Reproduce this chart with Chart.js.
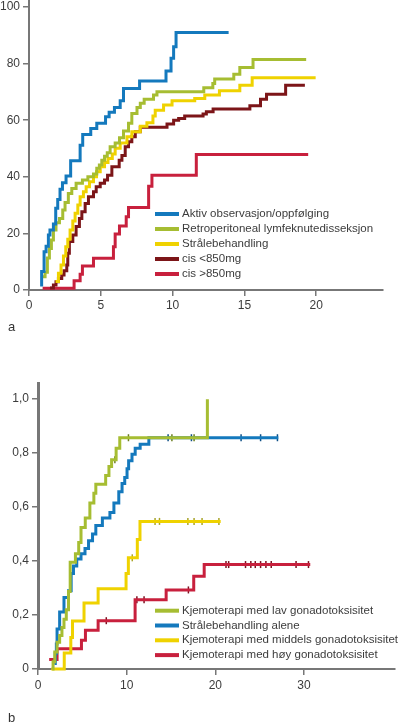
<!DOCTYPE html>
<html>
<head>
<meta charset="utf-8">
<script src="https://cdn.jsdelivr.net/npm/chart.js@4.4.1/dist/chart.umd.min.js"></script>
<style>
  html, body { margin: 0; padding: 0; background: #fff; }
  body { width: 400px; height: 724px; position: relative; overflow: hidden;
         font-family: "Liberation Sans", Arial, sans-serif; }
  #chartA { position: absolute; left: 0; top: 0; }
  #chartB { position: absolute; left: 0; top: 378px; }
  .tag { position: absolute; left: 8px; font-size: 13px; color: #333; }
</style>
</head>
<body>
<canvas id="chartA" width="400" height="320"></canvas>
<canvas id="chartB" width="400" height="321"></canvas>
<div class="tag" style="top:319px">a</div>
<div class="tag" style="top:710px">b</div>
<script>
// ---- panel a: cumulative recovery (%) by treatment, years ----
const labelsA = ['Aktiv observasjon/oppfølging', 'Retroperitoneal lymfeknutedisseksjon',
                 'Strålebehandling', 'cis <850mg', 'cis >850mg'];
const aktiv = [[0.88,1.2],[0.88,6.5],[1.05,13.5],[1.19,15.5],[1.35,19.4],[1.46,21.2],[1.7,23.3],
  [1.86,28.9],[2.0,32],[2.16,35.6],[2.33,37.9],[2.58,40.3],[2.9,45.7],[3.56,51.2],[3.74,55],
  [4.3,57.1],[4.72,58.9],[5.33,61.2],[5.58,62.8],[5.95,64.5],[6.35,66.9],[6.58,71.2],[7.7,73.9],
  [9.54,77.4],[9.89,81.9],[10.07,86],[10.24,91],[13.9,91]];
const retro = [[0.88,4.7],[1.12,6.3],[1.28,11.3],[1.42,14.7],[1.56,17.7],[1.7,21.2],[1.88,23.8],
  [2.12,25.3],[2.35,28.3],[2.51,30.9],[2.74,34.1],[2.98,35.9],[3.28,37.7],[3.72,38.9],[4.1,40],
  [4.49,41],[4.72,43],[4.9,44.2],[5.07,45.9],[5.26,47.3],[5.45,48.5],[5.65,50.6],[6.0,52],
  [6.3,53.8],[6.58,56.2],[6.93,58.9],[7.16,62.4],[7.52,64.5],[7.75,66],[8.02,67.4],[8.67,68.9],
  [8.91,70.1],[12.17,71.5],[12.8,73],[12.93,74.6],[14.26,76.3],[14.68,78.6],[15.6,81.5],[19.3,81.5]];
const straale = [[1.85,3.0],[2.05,5.9],[2.23,8.8],[2.4,12],[2.56,15.3],[2.7,17.9],[2.86,21.2],
  [3.05,24.4],[3.21,27.1],[3.4,30],[3.56,33],[3.79,34.7],[3.98,36.5],[4.21,38.3],[4.49,40],
  [4.7,41.8],[4.96,43.6],[5.26,45.1],[5.5,46.5],[5.8,48.1],[6.0,50.1],[6.35,52],[6.82,54.2],
  [7.16,55.9],[7.75,57.9],[8.21,59.1],[8.63,61.5],[8.79,63.5],[9.37,65.4],[9.96,66.9],
  [11.54,67.7],[12.24,68.9],[13.26,70.4],[14.68,72.4],[15.54,75],[19.96,75]];
const cisLow = [[1.46,0.7],[1.7,1.8],[1.88,2.9],[2.05,4.1],[2.28,5.3],[2.44,6.8],[2.63,8.8],
  [2.7,13],[2.81,17.1],[3.05,19.4],[3.28,22.4],[3.51,25.3],[3.68,27.7],[3.91,30.6],[4.14,33],
  [4.49,34.7],[4.68,36.5],[4.96,37.7],[5.26,38.9],[5.47,40.6],[5.77,43.6],[6.28,45.9],
  [6.47,47.5],[6.7,50.6],[6.93,52.4],[7.16,54.2],[7.4,55.9],[7.75,57.5],[9.61,58.7],[10.07,60],
  [10.42,60.6],[10.84,61.5],[12.12,62.2],[12.35,63],[12.82,64],[15.38,65.1],[16.12,67.4],
  [16.54,69.2],[17.87,72.4],[19.21,72.4]];
const cisHigh = [[0.95,0.6],[3.14,3.3],[3.56,5.6],[3.72,8.5],[4.49,11.2],[5.88,15.3],[6.0,19.8],
  [6.3,22.6],[6.77,25.9],[6.93,29.2],[8.33,36.7],[8.56,40.6],[11.65,47.9],[19.44,47.9]];
const xTicksA = [0, 5, 10, 15, 20];
const yTicksA = [0, 20, 40, 60, 80, 100];

// ---- panel b: cumulative proportion by gonadotoxicity ----
const labelsB = ['Kjemoterapi med lav gonadotoksisitet', 'Strålebehandling alene',
                 'Kjemoterapi med middels gonadotoksisitet', 'Kjemoterapi med høy gonadotoksisitet'];
const lav = [[1.6,0],[1.7,0.027],[1.89,0.063],[2.15,0.099],[2.44,0.124],[2.7,0.154],[2.93,0.184],
  [3.19,0.22],[3.44,0.287],[3.63,0.396],[4.22,0.427],[4.59,0.469],[4.85,0.524],[5.33,0.56],
  [5.85,0.615],[6.3,0.651],[6.52,0.685],[7.63,0.717],[8.0,0.75],[8.3,0.775],[8.81,0.818],
  [9.22,0.857],[19.1,0.857],[19.1,1.0]];
const straaleAlene = [[1.85,0.02],[1.95,0.057],[2.07,0.093],[2.15,0.148],[2.44,0.211],[2.93,0.265],
  [3.44,0.29],[3.74,0.354],[4.0,0.382],[4.37,0.408],[4.85,0.427],[5.3,0.447],[5.7,0.475],
  [6.15,0.5],[6.52,0.532],[7.26,0.56],[8.11,0.58],[8.56,0.615],[9.11,0.657],[9.48,0.687],
  [9.78,0.71],[10.04,0.742],[10.22,0.772],[10.6,0.796],[10.96,0.818],[11.52,0.833],
  [12.5,0.857],[27.1,0.857]];
const middels = [[1.5,0],[2.96,0.059],[3.7,0.117],[3.89,0.178],[5.19,0.245],[6.78,0.297],
  [9.93,0.354],[10.19,0.412],[11.2,0.48],[11.5,0.547],[20.6,0.547]];
const hoy = [[1.26,0.035],[2.15,0.075],[4.9,0.107],[5.35,0.144],[6.78,0.179],[10.95,0.257],
  [14.45,0.293],[17.56,0.344],[18.74,0.387],[30.7,0.387]];
// censored observations (time)
const lavCens = [8.67, 10.2, 15.1, 17.6];
const straaleAleneCens = [14.67, 17.3, 22.9, 25.1, 27.0];
const middelsCens = [10.63, 13.2, 13.7, 16.9, 17.6, 18.5, 20.4];
const hoyCens = [7.7, 11.15, 11.96, 16.96, 21.2, 21.5, 23.4, 24.0, 24.5, 25.1, 25.7, 26.3, 29.1, 30.5];
const xTicksB = [0, 10, 20, 30];
const yTicksB = [0, 0.2, 0.4, 0.6, 0.8, 1.0];
const yLabelsB = ['0', '0,2', '0,4', '0,6', '0,8', '1,0'];

const BLUE = '#1479bd', GREEN = '#a6bd32', YELLOW = '#efd200', DARKRED = '#7c1518', CRIMSON = '#c8203d';
const axisColor = '#777777';
const textColor = '#3c3c3c';

Chart.defaults.font.family = '"Liberation Sans", Arial, sans-serif';
Chart.defaults.font.size = 12;
Chart.defaults.animation = false;

const pts = arr => arr.map(p => ({ x: p[0], y: p[1] }));

// value of a step curve at time t (for placing censor ticks on it)
function onCurve(curve, times) {
  return times.map(t => {
    let y = curve[0][1];
    curve.forEach(p => { if (p[0] <= t) y = p[1]; });
    return { x: t, y: y };
  });
}

function curve(label, data, color) {
  return { label: label, data: pts(data), borderColor: color, backgroundColor: color,
           borderWidth: 3, stepped: 'before', pointRadius: 0, fill: false, inLegend: true, clip: 6 };
}
function censor(data, color) {
  return { data: data, showLine: false, pointStyle: 'line', pointRotation: 90, pointRadius: 3.5,
           pointBorderWidth: 1.5, pointBorderColor: color, borderColor: color, clip: 6 };
}

const curveLegend = {
  id: 'curveLegend',
  afterDraw(chart, args, o) {
    const ctx = chart.ctx;
    ctx.save();
    ctx.font = '11.5px "Liberation Sans", Arial, sans-serif';
    ctx.textBaseline = 'middle';
    let y = o.top;
    chart.data.datasets.filter(d => d.inLegend).forEach(d => {
      ctx.strokeStyle = d.borderColor;
      ctx.lineWidth = 4;
      ctx.beginPath();
      ctx.moveTo(155, y);
      ctx.lineTo(179, y);
      ctx.stroke();
      ctx.fillStyle = textColor;
      ctx.fillText(d.label, 182, y);
      y += o.step;
    });
    ctx.restore();
  }
};

function xScale(max, vals, borderW, pad) {
  return {
    type: 'linear', min: 0, max: max,
    border: { display: true, color: axisColor, width: borderW },
    grid: { display: true, drawOnChartArea: false, drawTicks: true, tickLength: 6,
            color: axisColor, lineWidth: 1.5 },
    ticks: { color: textColor, padding: pad, autoSkip: false, maxRotation: 0,
             callback: (v, i) => String(vals[i]) },
    afterBuildTicks: s => { s.ticks = vals.map(v => ({ value: v })); },
    afterFit: s => { s.height = 30; s.paddingLeft = 0; s.paddingRight = 0; }
  };
}
function yScale(max, vals, labels, borderW, w) {
  return {
    type: 'linear', min: 0, max: max,
    border: { display: true, color: axisColor, width: borderW },
    grid: { display: true, drawOnChartArea: false, drawTicks: true, tickLength: 6,
            color: axisColor, lineWidth: 1.5 },
    ticks: { color: textColor, padding: 3, autoSkip: false,
             callback: (v, i) => labels[i] },
    afterBuildTicks: s => { s.ticks = vals.map(v => ({ value: v })); },
    afterFit: s => { s.width = w; s.paddingTop = 0; s.paddingBottom = 0; }
  };
}

new Chart(document.getElementById('chartA'), {
  type: 'line',
  data: {
    datasets: [
      curve(labelsA[0], aktiv, BLUE),
      curve(labelsA[1], retro, GREEN),
      curve(labelsA[2], straale, YELLOW),
      curve(labelsA[3], cisLow, DARKRED),
      curve(labelsA[4], cisHigh, CRIMSON)
    ]
  },
  options: {
    responsive: false,
    layout: { padding: { left: 0, right: 17, top: 0, bottom: 0 } },
    scales: {
      x: xScale(24.65, xTicksA, 2, 2),
      y: yScale(102.5, yTicksA, yTicksA.map(String), 2, 29)
    },
    plugins: { legend: { display: false }, tooltip: { enabled: false },
               curveLegend: { top: 214, step: 15 } }
  },
  plugins: [curveLegend]
});

new Chart(document.getElementById('chartB'), {
  type: 'line',
  data: {
    datasets: [
      curve(labelsB[0], lav, GREEN),
      curve(labelsB[1], straaleAlene, BLUE),
      curve(labelsB[2], middels, YELLOW),
      curve(labelsB[3], hoy, CRIMSON),
      censor(onCurve(lav, lavCens), '#6a7d1e'),
      censor(onCurve(straaleAlene, straaleAleneCens), '#0d4f86'),
      censor(onCurve(middels, middelsCens), '#a9a428'),
      censor(onCurve(hoy, hoyCens), '#7a1020')
    ]
  },
  options: {
    responsive: false,
    layout: { padding: { left: 0, right: 0, top: 0, bottom: 0 } },
    scales: {
      x: xScale(40.2, xTicksB, 2, 3),
      y: yScale(1.058, yTicksB, yLabelsB, 3, 38)
    },
    plugins: { legend: { display: false }, tooltip: { enabled: false },
               curveLegend: { top: 232.7, step: 14.8 } }
  },
  plugins: [curveLegend]
});
</script>
</body>
</html>
